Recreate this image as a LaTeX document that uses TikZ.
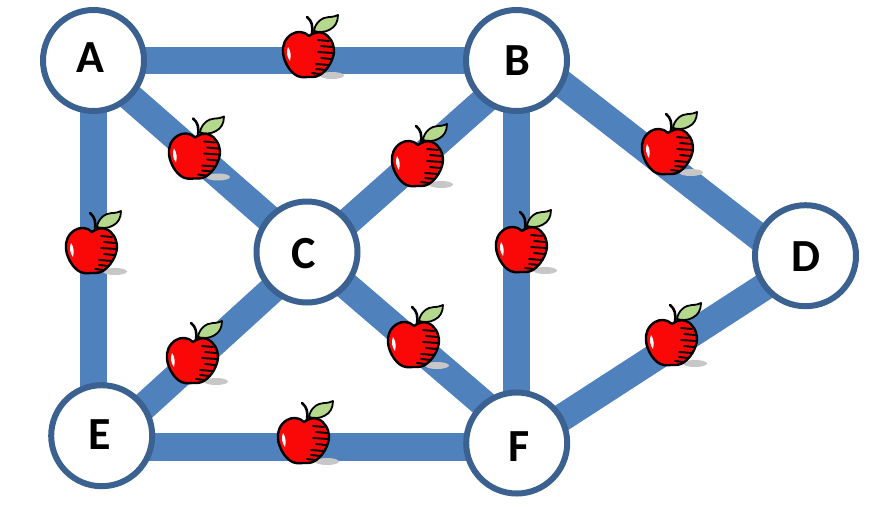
\documentclass[tikz,border=0pt]{standalone}
\usepackage{fontspec}
\setmainfont{Carlito}
\usetikzlibrary{backgrounds}
\definecolor{edgeblue}{HTML}{4F81BD}
\definecolor{ringblue}{HTML}{3A6190}
\definecolor{leafgreen}{HTML}{B5D98C}
\definecolor{applered}{HTML}{FA0808}
\newcommand{\cityname}[3]{\raisebox{#2pt}[0pt][0pt]{\kern#1pt #3}}
\tikzset{
  city/.style={circle,draw=ringblue,line width=6pt,fill=white,minimum size=101pt,inner sep=0pt,outer sep=0pt,
    font=\fontsize{46}{46}\selectfont\bfseries},
  road/.style={draw=edgeblue,line width=27.5pt},
  ink/.style={draw=black,line width=2.4pt,line cap=round,line join=round},
  apple/.pic={
    \fill[black!22] (24,20.5) ellipse [x radius=12,y radius=3.5];
    \draw[ink,fill=applered] (1,-19)
      .. controls (-4,-24) and (-11,-24) .. (-16,-21)
      .. controls (-23,-17) and (-26,-9) .. (-25,-2)
      .. controls (-24,8) and (-16,21) .. (-7,22)
      .. controls (-2,23) and (1,21) .. (5,22)
      .. controls (15,22) and (25,8) .. (26,-3)
      .. controls (26,-12) and (22,-19) .. (15,-22)
      .. controls (10,-24) and (5,-22) .. (1,-19) -- cycle;
    \draw[ink,line width=2.6pt] (4,-21) .. controls (5,-29) and (4,-34) .. (-1,-38);
    \draw[ink,line width=1.8pt,fill=leafgreen] (6,-24) .. controls (7,-32) and (14,-38) .. (21,-38)
      .. controls (25,-38) and (28,-39) .. (30,-40)
      .. controls (30,-33) and (27,-28) .. (22,-25.5)
      .. controls (17,-22.5) and (11,-22.5) .. (6,-24) -- cycle;
    \fill[white] (-20,-8) .. controls (-22,-3) and (-21,2) .. (-18,6)
      .. controls (-17,1) and (-17,-4) .. (-20,-8) -- cycle;
    \foreach \ya/\xa/\xb in {-15/10/21,-9/13/24,-3/10/25,3/13/23,9/8/21,14/8/18,18/4/12}{
      \draw[black,line width=1.9pt,line cap=round] (\xa,\ya) -- (\xb,\ya+1);
    }
  }
}
\begin{document}
\begin{tikzpicture}[x=1pt,y=-1pt]
\useasboundingbox (0,0) rectangle (890,509);
\node[city] (A) at (93.5,60.5) {\cityname{-6}{-12}{A}};
\node[city] (B) at (516.5,60.5) {\cityname{1}{-15}{B}};
\node[city] (C) at (307,252) {\cityname{-6}{-16.5}{C}};
\node[city] (D) at (805.5,255.7) {\cityname{0}{-15.8}{D}};
\node[city] (E) at (101.7,435.7) {\cityname{-3}{-13.8}{E}};
\node[city] (F) at (516.7,443) {\cityname{4}{-18.5}{F}};
\coordinate (Ac) at (93.5,65);
\coordinate (Bc) at (516.5,72);
\coordinate (Bd) at (516.5,48.4);
\coordinate (Cb) at (307,258);
\coordinate (Ce) at (307,258);
\coordinate (Db) at (805.5,273.3);
\coordinate (Df) at (805.5,260);
\coordinate (Ec) at (101.7,445);
\coordinate (Eb) at (101.7,447);
\coordinate (Fb) at (516.7,447);
\coordinate (Fc) at (516.7,432);
\begin{scope}[on background layer]
\fill[white] (0,0) rectangle (890,509);
\draw[road] (A.center) -- (B.center);
\draw[road] (Ac) -- (C.center);
\draw[road] (Bc) -- (Cb);
\draw[road] (Bd) -- (Db);
\draw[road] (A.center) -- (A.center |- E.center);
\draw[road] (B.center) -- (B.center |- F.center);
\draw[road] (Ce) -- (Ec);
\draw[road] (C.center) -- (Fc);
\draw[road] (Df) -- (Fb);
\draw[road] (Eb) -- (Fb);
\end{scope}
\pic at (308,55) {apple};
\pic at (194,156.5) {apple};
\pic at (417,164) {apple};
\pic at (667,152) {apple};
\pic at (91,251) {apple};
\pic at (521,250) {apple};
\pic at (192,361) {apple};
\pic at (413,345) {apple};
\pic at (671,343) {apple};
\pic at (303,441) {apple};
\end{tikzpicture}
\end{document}
